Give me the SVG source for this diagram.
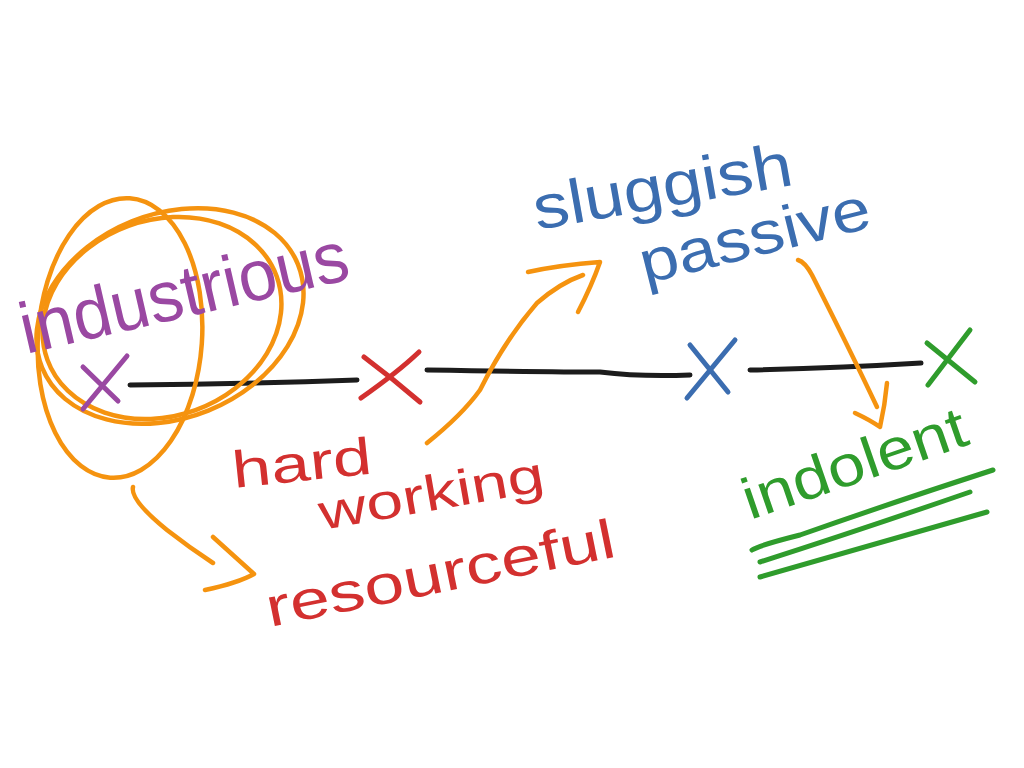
<svg xmlns="http://www.w3.org/2000/svg" width="1024" height="768" viewBox="0 0 1024 768">
<style>
.ink{fill:none;stroke-linecap:round;stroke-linejoin:round;stroke-width:5}
.blk{stroke:#1c1c1c}
.org{stroke:#f5930f;stroke-width:4.5}
.pur{stroke:#9a48a2}
.red{stroke:#d3302f}
.blu{stroke:#3b6db0}
.grn{stroke:#2f9c2c}
.t{font-family:"Liberation Sans","DejaVu Sans",sans-serif;font-weight:normal}
</style>
<rect width="1024" height="768" fill="#ffffff"/>

<g id="connectors">
  <path class="ink blk" d="M130,385 Q240,384 357,380"/>
  <path class="ink blk" d="M427,370 Q560,372 600,372 Q640,377 690,375"/>
  <path class="ink blk" d="M750,370 Q840,368 921,363"/>
  <path class="ink org" d="M133,487 Q130,500 167,530 Q190,548 213,563"/>
  <path class="ink org" d="M213,537 L254,574 Q238,583 205,590"/>
  <path class="ink org" d="M427,443 Q462,415 480,390 Q505,340 537,303 Q560,283 583,275"/>
  <path class="ink org" d="M528,272 Q560,265 600,262 Q592,285 578,312"/>
  <path class="ink org" d="M798,260 Q805,262 812,275 Q850,350 877,407"/>
  <path class="ink org" d="M855,413 Q870,420 880,427 Q885,405 887,383"/>
</g>

<g id="node-industrious">
  <g class="ink org">
    <ellipse cx="120" cy="338" rx="82" ry="140" transform="rotate(4 120 338)"/>
    <ellipse cx="170" cy="316" rx="138" ry="102" transform="rotate(-22 170 316)"/>
    <ellipse cx="162" cy="318" rx="122" ry="98" transform="rotate(-20 162 318)"/>
  </g>
  <path class="ink pur" d="M127,356 L83,409 M83,367 L118,401"/>
  <text class="t" fill="#9a48a2" font-size="72" transform="translate(26,354) rotate(-13)" textLength="335" lengthAdjust="spacingAndGlyphs">industrious</text>
</g>

<g id="node-hardworking">
  <path class="ink red" d="M364,357 Q392,378 420,402 M419,352 Q398,372 361,398"/>
  <text class="t" fill="#d3302f" font-size="52" transform="translate(234,488) rotate(-6)" textLength="140" lengthAdjust="spacingAndGlyphs">hard</text>
  <text class="t" fill="#d3302f" font-size="50" transform="translate(322,530) rotate(-10)" textLength="228" lengthAdjust="spacingAndGlyphs">working</text>
  <text class="t" fill="#d3302f" font-size="55" transform="translate(270,627) rotate(-11.5)" textLength="355" lengthAdjust="spacingAndGlyphs">resourceful</text>
</g>

<g id="node-sluggish">
  <path class="ink blu" d="M735,340 L687,398 M690,345 L728,392"/>
  <text class="t" fill="#3b6db0" font-size="62" transform="translate(537,230) rotate(-10)" textLength="262" lengthAdjust="spacingAndGlyphs">sluggish</text>
  <text class="t" fill="#3b6db0" font-size="60" transform="translate(645,284) rotate(-14)" textLength="236" lengthAdjust="spacingAndGlyphs">passive</text>
</g>

<g id="node-indolent">
  <path class="ink grn" d="M970,330 L928,385 M927,343 L975,382"/>
  <text class="t" fill="#2f9c2c" font-size="58" transform="translate(750,520) rotate(-19)" textLength="234" lengthAdjust="spacingAndGlyphs">indolent</text>
  <path class="ink grn" d="M752,550 Q760,545 800,535 Q900,500 993,470"/>
  <path class="ink grn" d="M760,562 Q860,530 970,492"/>
  <path class="ink grn" d="M760,577 Q870,545 987,512"/>
</g>
</svg>
